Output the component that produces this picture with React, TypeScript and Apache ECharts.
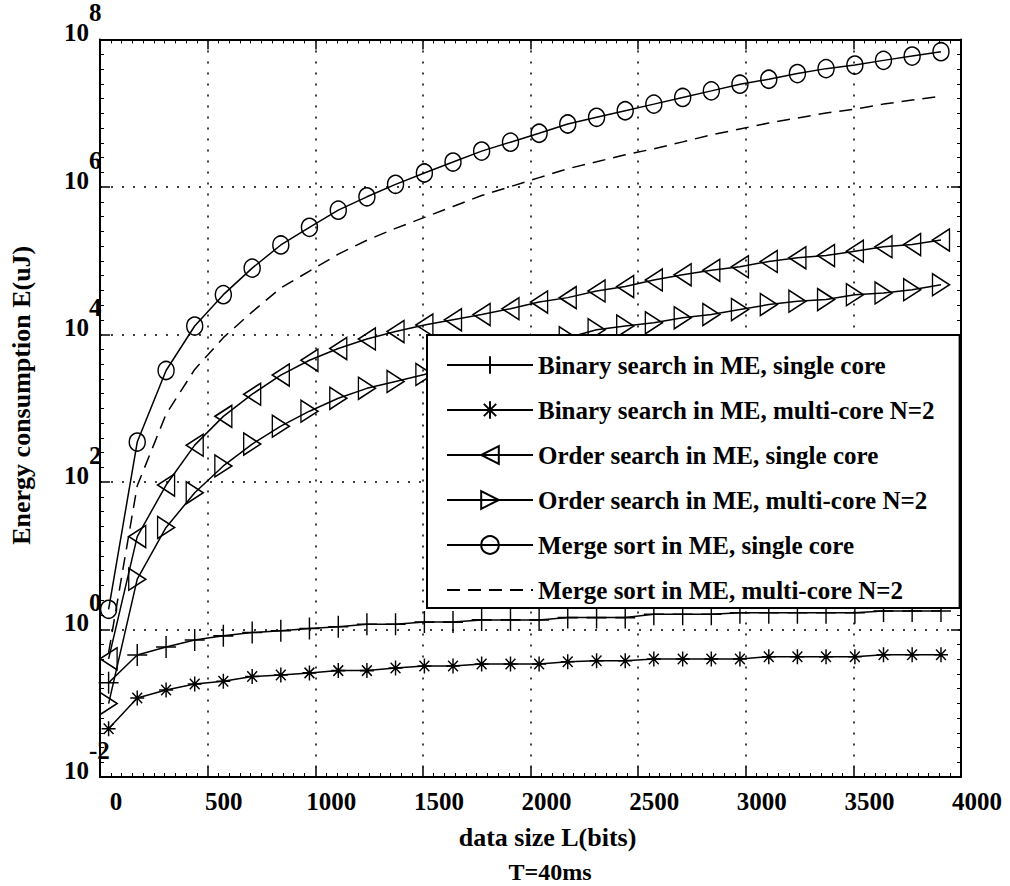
import React, { useEffect, useRef } from 'react';
import * as echarts from 'echarts';

// data size L (bits) at each marker
const dataSize = [40, 173, 307, 440, 573, 707, 840, 973, 1107, 1240, 1373, 1507, 1640, 1773, 1907, 2040, 2173, 2307, 2440, 2573, 2707, 2840, 2973, 3107, 3240, 3373, 3507, 3640, 3773, 3907];

// Energy consumption E (uJ)
const binarySingle = [0.19, 0.45, 0.58, 0.72, 0.82, 0.91, 0.96, 1.03, 1.09, 1.18, 1.18, 1.26, 1.26, 1.35, 1.35, 1.35, 1.45, 1.45, 1.45, 1.61, 1.61, 1.61, 1.69, 1.69, 1.69, 1.69, 1.69, 1.78, 1.78, 1.78];
const binaryMulti = [0.045, 0.118, 0.151, 0.182, 0.199, 0.23, 0.242, 0.258, 0.277, 0.277, 0.301, 0.32, 0.32, 0.34, 0.34, 0.34, 0.366, 0.377, 0.377, 0.398, 0.398, 0.398, 0.398, 0.428, 0.428, 0.428, 0.428, 0.455, 0.455, 0.455];
const orderSingle = [0.4, 18.2, 91, 316, 776, 1550, 2820, 4470, 6460, 8710, 10970, 13490, 15850, 18620, 22390, 27540, 31620, 38900, 44670, 54950, 64570, 74130, 83180, 97720, 109600, 117500, 134900, 154900, 166000, 190500];
const orderMulti = [0.099, 4.81, 24.2, 71.5, 165, 327, 571, 912, 1365, 1862, 2312, 2871, 3681, 4571, 5689, 7063, 9057, 11610, 13000, 14420, 16830, 18660, 21780, 25470, 28250, 29720, 34670, 36560, 40550, 47320];
const mergeSingle = [1.88, 348, 3252, 13030, 34690, 79430, 163700, 283800, 485300, 736200, 1087000, 1549000, 2178000, 3067000, 4055000, 5358000, 7150000, 8806000, 10810000, 13300000, 16380000, 20110000, 24750000, 28900000, 34490000, 40270000, 45050000, 52120000, 59570000, 68280000];
const mergeMulti = [0.484, 88.9, 830, 3357, 9057, 20280, 42760, 72440, 122700, 189700, 274900, 387000, 544600, 765600, 1012000, 1339000, 1770000, 2198000, 2733000, 3294000, 4093000, 5082000, 6124000, 7379000, 8614000, 10060000, 11400000, 13300000, 15070000, 17060000];

const seriesNames = [
  'Binary search in ME, single core',
  'Binary search in ME, multi-core N=2',
  'Order search in ME, single core',
  'Order search in ME, multi-core N=2',
  'Merge sort in ME, single core',
  'Merge sort in ME, multi-core N=2',
];

// y axis: decades 10^-2 .. 10^8, labelled every two decades
const yExpMin = -2;
const yExpMax = 8;
const yExpStep = 2;

const xTitle = 'data size L(bits)';
const yTitle = 'Energy consumption E(uJ)';
const note = 'T=40ms';

const FONT = 'Liberation Serif';

export default function App() {
  const ref = useRef<HTMLDivElement>(null);

  useEffect(() => {
    const chart = echarts.init(ref.current as HTMLDivElement, null, { renderer: 'svg' });
    // plotted on a decade (log10) value axis
    const pairs = (arr: number[]) => dataSize.map((x, i) => [x, Math.log10(arr[i])]);

    const plus = 'path://M10,0L10,20M0,10L20,10';
    const star = 'path://M10,0L10,20M0,10L20,10M3,3L17,17M3,17L17,3';
    const triLeft = 'path://M20,0L0,10L20,20Z';
    const triRight = 'path://M0,0L20,10L0,20Z';

    const mk = (name: string, arr: number[], symbol: string, size: any, dashed = false) => ({
      name,
      type: 'line',
      data: pairs(arr),
      symbol,
      symbolSize: size,
      showSymbol: symbol !== 'none',
      showAllSymbol: true,
      silent: true,
      lineStyle: { color: '#000', width: 1.5, type: dashed ? [13, 8] : 'solid' },
      itemStyle: { color: 'rgba(0,0,0,0)', borderColor: '#000', borderWidth: dashed ? 0 : 1.5 },
      emphasis: { disabled: true },
      z: 2,
    });

    const txt = { fontFamily: FONT, fontWeight: 'bold' as const, fontSize: 25, color: '#000' };
    const dotted = { show: true, showMinLine: false, showMaxLine: false, lineStyle: { color: '#000', width: 1.5, type: [2, 9] } };
    const axisLine = { show: true, onZero: false, lineStyle: { color: '#000', width: 2 } };
    const tick = { show: true, inside: true, length: 10, lineStyle: { color: '#000', width: 1.5 } };
    const xMinor = { show: true, splitNumber: 10, length: 4, lineStyle: { color: '#000', width: 1 } };
    const yMinor = { show: true, splitNumber: 10, length: 4, lineStyle: { color: '#000', width: 1 } };

    chart.setOption({
      animation: false,
      backgroundColor: '#fff',
      grid: { left: 99, right: 49, top: 35, bottom: 109, containLabel: false },
      xAxis: [
        {
          type: 'value', min: 0, max: 4000, interval: 500, position: 'bottom',
          axisLine, axisTick: tick, minorTick: xMinor,
          axisLabel: { ...txt, margin: 12, padding: [0, 0, 0, 32], formatter: (v: number) => String(v) },
          splitLine: dotted,
          name: xTitle, nameLocation: 'middle', nameGap: 47,
          nameTextStyle: { ...txt, fontSize: 26, padding: [0, 0, 0, 34] },
        },
        {
          type: 'value', min: 0, max: 4000, interval: 500, position: 'top',
          axisLine, axisTick: tick, minorTick: xMinor,
          axisLabel: { show: false }, splitLine: { show: false },
        },
      ],
      yAxis: [
        {
          type: 'value', min: yExpMin, max: yExpMax, interval: yExpStep, position: 'left',
          axisLine, axisTick: tick, minorTick: yMinor,
          axisLabel: {
            align: 'left', margin: 36, padding: [0, 0, 14, 0],
            formatter: (v: number) => `{b|10}{s|${Math.round(v)}}`,
            rich: {
              b: { ...txt, lineHeight: 25, verticalAlign: 'bottom' },
              s: { ...txt, lineHeight: 25, verticalAlign: 'bottom', padding: [0, 0, 20, 0] },
            },
          },
          splitLine: dotted,
          name: yTitle, nameLocation: 'middle', nameGap: 66,
          nameTextStyle: { ...txt, fontSize: 26, padding: [0, 0, 0, 26] },
        },
        {
          type: 'value', min: yExpMin, max: yExpMax, interval: yExpStep, position: 'right',
          axisLine, axisTick: tick, minorTick: yMinor,
          axisLabel: { show: false }, splitLine: { show: false },
        },
      ],
      legend: {
        orient: 'vertical', left: 427, top: 335, padding: [15, 25, 3, 19],
        backgroundColor: '#fff', borderColor: '#000', borderWidth: 2,
        itemWidth: 86, itemHeight: 22, itemGap: 15, selectedMode: false,
        textStyle: { ...txt, lineHeight: 30 },
        data: seriesNames,
      },
      graphic: [
        {
          type: 'text', x: 550, y: 872,
          style: { text: note, font: `bold 24px ${FONT}`, fill: '#000', align: 'center', verticalAlign: 'middle', lineHeight: 24 },
        },
      ],
      series: [
        mk(seriesNames[0], binarySingle, plus, [20, 22]),
        mk(seriesNames[1], binaryMulti, star, [14, 15]),
        mk(seriesNames[2], orderSingle, triLeft, [17, 22]),
        mk(seriesNames[3], orderMulti, triRight, [17, 22]),
        mk(seriesNames[4], mergeSingle, 'circle', [16, 18]),
        mk(seriesNames[5], mergeMulti, 'none', 1, true),
      ],
    });

    return () => chart.dispose();
  }, []);

  return <div ref={ref} style={{ position: 'absolute', left: 0, top: 0, width: 1010, height: 886 }} />;
}
